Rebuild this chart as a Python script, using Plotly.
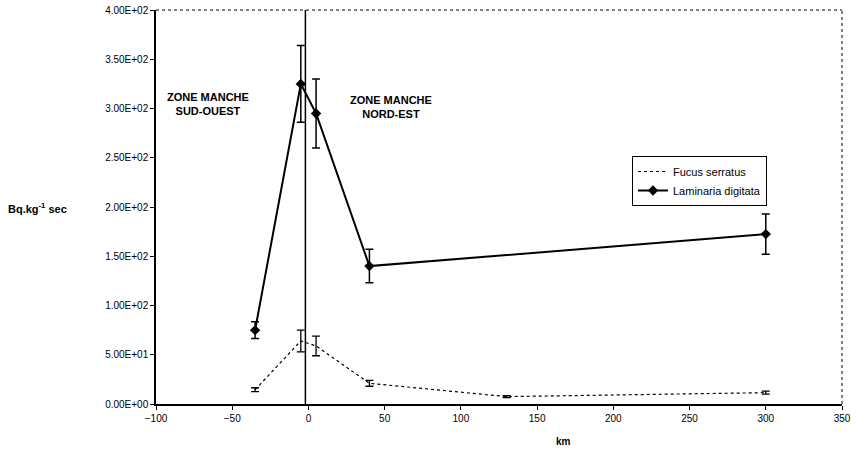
import plotly.graph_objects as go

# ---- data ----
km_fucus = [-35, -5, 5, 40, 130, 300]
fucus = [14.5, 64, 59, 21, 7.5, 11.5]
fucus_err = [2, 11, 10, 3, 1, 1.5]

km_lam = [-35, -5, 5, 40, 300]
laminaria = [75, 325, 295, 140, 172.5]
laminaria_err = [8.5, 39, 35, 17, 20.5]

y_ticks = [0, 50, 100, 150, 200, 250, 300, 350, 400]
y_ticklabels = ["0.00E+00", "5.00E+01", "1.00E+02", "1.50E+02", "2.00E+02",
                "2.50E+02", "3.00E+02", "3.50E+02", "4.00E+02"]
x_ticks = [-100, -50, 0, 50, 100, 150, 200, 250, 300, 350]

boundary_km = -2

FONT = "Liberation Sans, Arial, sans-serif"

W, H = 856, 451
L, R, T, B = 156, 14, 10, 47
PW = W - L - R
PH = H - T - B

fig = go.Figure()
fig.add_trace(go.Scatter(
    x=km_fucus, y=fucus, name="Fucus serratus", mode="lines",
    line=dict(color="black", width=1.2, dash="dot"),
    error_y=dict(type="data", array=fucus_err, color="black", thickness=1.3, width=4),
))
fig.add_trace(go.Scatter(
    x=km_lam, y=laminaria, name="Laminaria digitata", mode="lines+markers",
    line=dict(color="black", width=2),
    marker=dict(symbol="diamond", size=8, color="black"),
    error_y=dict(type="data", array=laminaria_err, color="black", thickness=1.5, width=4),
))

# boundary line
fig.add_shape(type="line", xref="x", yref="paper", x0=boundary_km, x1=boundary_km,
              y0=0, y1=1, line=dict(color="black", width=1.5))
# dotted top and right frame
fig.add_shape(type="line", xref="paper", yref="paper", x0=0, x1=1, y0=1, y1=1,
              line=dict(color="black", width=1, dash="dot"))
fig.add_shape(type="line", xref="paper", yref="paper", x0=1, x1=1, y0=0, y1=1,
              line=dict(color="black", width=1, dash="dot"))

fig.add_annotation(x=-66, y=305, xref="x", yref="y", showarrow=False,
                   text="<b>ZONE MANCHE<br>SUD-OUEST</b>",
                   font=dict(family=FONT, size=11, color="black"), align="center")
fig.add_annotation(x=54, y=302, xref="x", yref="y", showarrow=False,
                   text="<b>ZONE MANCHE<br>NORD-EST</b>",
                   font=dict(family=FONT, size=11, color="black"), align="center")
fig.add_annotation(x=(6 - L) / PW, y=(404 - 208) / PH, xref="paper", yref="paper",
                   showarrow=False, xanchor="left", yanchor="middle",
                   text="<b>Bq.kg<sup>-1</sup> sec</b>",
                   font=dict(family=FONT, size=11, color="black"))
fig.add_annotation(x=167, y=-0.095, xref="x", yref="paper", showarrow=False,
                   text="<b>km</b>", yanchor="middle",
                   font=dict(family=FONT, size=10, color="black"))

fig.update_layout(
    width=W, height=H,
    margin=dict(l=L, r=R, t=T, b=B, autoexpand=False),
    paper_bgcolor="white", plot_bgcolor="white",
    font=dict(family=FONT, size=10, color="black"),
    showlegend=True,
    legend=dict(x=(632 - L) / PW, y=(404 - 156) / PH, xanchor="left", yanchor="top",
                bordercolor="black", borderwidth=1, bgcolor="white",
                font=dict(family=FONT, size=11, color="black"),
                tracegroupgap=0, itemwidth=30),
    xaxis=dict(range=[-100, 350], tickvals=x_ticks, showgrid=False, zeroline=False,
               automargin=False,
               showline=True, linecolor="black", linewidth=1.5,
               ticks="outside", ticklen=4, tickcolor="black", tickwidth=1),
    yaxis=dict(range=[0, 400], tickvals=y_ticks, ticktext=y_ticklabels,
               showgrid=False, zeroline=False, automargin=False,
               showline=True, linecolor="black", linewidth=1.5,
               ticks="outside", ticklen=4, tickcolor="black", tickwidth=1),
)

fig.write_html(
    "out.html",
    config={"displayModeBar": False},
    post_script="document.body.style.margin='0';document.body.style.overflow='hidden';",
)
